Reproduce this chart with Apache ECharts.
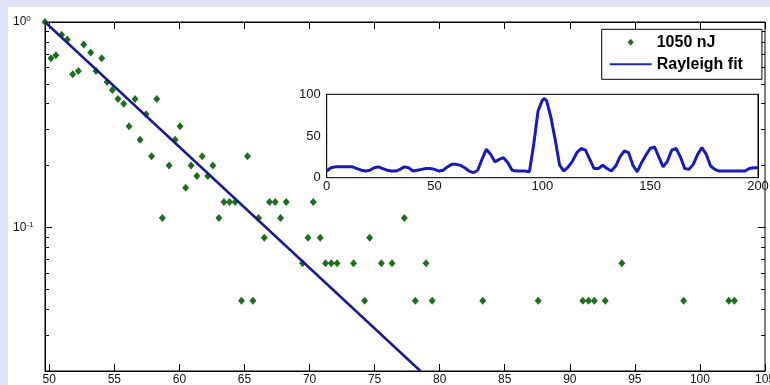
<!DOCTYPE html>
<html>
<head>
<meta charset="utf-8">
<script src="https://cdn.jsdelivr.net/npm/echarts@6/dist/echarts.min.js"></script>
<style>
  html, body { margin: 0; padding: 0; background: #e0e4f6; width: 770px; height: 385px; overflow: hidden; }
  #chart { position: absolute; left: 8px; top: 7px; width: 762px; height: 378px; background: #ffffff; }
</style>
</head>
<body>
<div id="chart"></div>
<script>
// Pulse energy (x) and exceedance probability (y) of the measured pulses
const pulseEnergy = [49.67, 50.13, 50.51, 50.95, 51.38, 51.80, 52.23, 52.65, 53.18, 53.59,
  54.03, 54.44, 54.85, 55.28, 55.72, 56.13, 56.59, 56.98, 57.44, 57.86,
  58.26, 58.69, 59.21, 59.67, 60.05, 60.48, 60.90, 61.34, 61.75, 62.18,
  62.57, 63.03, 63.42, 63.85, 64.28, 64.77, 65.23, 65.65, 66.08, 66.52,
  66.92, 67.36, 67.77, 68.21, 69.46, 69.88, 70.28, 70.82, 71.23, 71.67,
  72.11, 73.38, 74.23, 74.62, 75.52, 76.34, 77.28, 78.13, 78.95, 79.42,
  83.31, 87.57, 91.00, 91.44, 91.88, 92.72, 94.00, 98.75, 102.21, 102.65];
const pulseProb = [1.000, 0.667, 0.689, 0.867, 0.822, 0.556, 0.578, 0.778, 0.711, 0.578,
  0.667, 0.511, 0.467, 0.422, 0.400, 0.311, 0.422, 0.267, 0.356, 0.222,
  0.422, 0.111, 0.200, 0.267, 0.311, 0.156, 0.200, 0.178, 0.222, 0.178,
  0.200, 0.111, 0.133, 0.133, 0.133, 0.044, 0.222, 0.044, 0.111, 0.089,
  0.133, 0.133, 0.111, 0.133, 0.067, 0.089, 0.133, 0.089, 0.067, 0.067,
  0.067, 0.067, 0.044, 0.089, 0.067, 0.067, 0.111, 0.044, 0.067, 0.044,
  0.044, 0.044, 0.044, 0.044, 0.044, 0.044, 0.067, 0.044, 0.044, 0.044];

// Rayleigh fit end points
const fitEnergy = [49.67, 78.52];
const fitProb = [1.0, 0.02];

// Inset trace
const insetX = [0, 2, 4, 6, 8, 10, 12, 14, 16, 18, 20, 22, 24, 26, 28, 30, 32, 34, 36, 38,
  40, 42, 44, 46, 48, 50, 52, 54, 56, 58, 60, 62, 64, 66, 68, 70, 72, 74, 76, 78,
  80, 82, 84, 86, 88, 90, 92, 94, 96, 98, 100, 101, 102, 104, 106, 108, 110, 112, 114, 116,
  118, 120, 122, 124, 126, 128, 130, 132, 134, 136, 138, 140, 142, 144, 146, 148, 150, 152, 154, 156,
  158, 160, 162, 164, 166, 168, 170, 172, 174, 176, 178, 180, 182, 184, 186, 188, 190, 192, 194, 196,
  198, 200];
const insetY = [8, 12, 13, 13, 13, 13, 13, 11, 9, 8, 9, 12, 13, 11, 9, 8, 8, 10, 13, 12,
  8, 9, 10, 11, 11, 10, 8, 9, 13, 16, 16, 15, 12, 8, 6, 9, 22, 34, 28, 19,
  22, 24, 18, 9, 8, 8, 8, 7, 40, 80, 93, 95, 92, 72, 45, 15, 8, 13, 20, 30,
  35, 33, 22, 11, 11, 15, 11, 8, 14, 25, 32, 30, 15, 7, 18, 27, 35, 37, 25, 13,
  20, 33, 35, 25, 11, 10, 16, 28, 36, 28, 14, 10, 8, 8, 8, 8, 8, 8, 8, 11,
  12, 12];

// Axis ticks
const xTickValues = [50, 55, 60, 65, 70, 75, 80, 85, 90, 95, 100, 105];
const yDecades = [0.1, 1];
const yMinorValues = [0.02, 0.03, 0.04, 0.05, 0.06, 0.07, 0.08, 0.09,
  0.2, 0.3, 0.4, 0.5, 0.6, 0.7, 0.8, 0.9];
const insetXTicks = [0, 50, 100, 150, 200];
const insetYTicks = [0, 50, 100];

const FONT = 'Liberation Sans';
const INK = '#111111';
const yLogMin = Math.log10(0.02);
const toLog = v => Math.log10(v);

// tick-only helper axes on the log-decade grid
function decadeAxis(position, ticks, len, labels) {
  return {
    gridIndex: 0, type: 'value', position: position,
    min: yLogMin, max: 0,
    axisLine: { show: false, onZero: false },
    axisTick: { show: true, inside: true, length: len, customValues: ticks,
      lineStyle: { color: '#000', width: 1 } },
    axisLabel: labels ? {
      show: true, customValues: ticks, align: 'left', margin: 32,
      formatter: v => '{b|10}{s|' + Math.round(v) + '}',
      rich: {
        b: { fontFamily: FONT, fontSize: 12, color: INK, lineHeight: 14 },
        s: { fontFamily: FONT, fontSize: 8, color: INK, verticalAlign: 'top', lineHeight: 9 }
      }
    } : { show: false },
    splitLine: { show: false }
  };
}

const chart = echarts.init(document.getElementById('chart'), null, { renderer: 'canvas' });

chart.setOption({
  animation: false,
  backgroundColor: 'transparent',
  grid: [
    { left: 37, top: 15, right: 5, bottom: 14, show: true, backgroundColor: '#ffffff',
      borderColor: '#000000', borderWidth: 1, outerBoundsMode: 'none', containLabel: false },
    { left: 318.7, top: 87.3, width: 431.3, height: 83.4, show: true, backgroundColor: '#ffffff',
      borderColor: '#000000', borderWidth: 1, z: 3, outerBoundsMode: 'none', containLabel: false }
  ],
  legend: {
    left: 593.7, top: 22.3, orient: 'vertical',
    padding: [5, 19, 7, 8], itemWidth: 42, itemHeight: 7, itemGap: 6,
    symbolKeepAspect: true,
    backgroundColor: '#ffffff', borderColor: '#000000', borderWidth: 1, borderRadius: 0,
    selectedMode: false,
    textStyle: { fontFamily: FONT, fontWeight: 'bold', fontSize: 16, color: '#000', lineHeight: 16 },
    data: [
      { name: '1050 nJ', icon: 'path://M3,0 L6,3.5 L3,7 L0,3.5 Z', itemStyle: { color: '#1e6e1e', opacity: 1 } },
      { name: 'Rayleigh fit', icon: 'path://M0,0 L42,0 L42,2 L0,2 Z', itemStyle: { color: '#2020c0' } }
    ]
  },
  xAxis: [
    { gridIndex: 0, type: 'value', position: 'bottom', min: 49.67, max: 105,
      axisLine: { show: true, onZero: false, lineStyle: { color: '#000' } },
      axisTick: { show: true, inside: true, length: 7, customValues: xTickValues,
        lineStyle: { color: '#000' } },
      axisLabel: { show: true, customValues: xTickValues, margin: 3,
        fontFamily: FONT, fontSize: 12, color: INK },
      splitLine: { show: false } },
    { gridIndex: 0, type: 'value', position: 'top', min: 49.67, max: 105,
      axisLine: { show: true, onZero: false, lineStyle: { color: '#000' } },
      axisTick: { show: true, inside: true, length: 7, customValues: xTickValues,
        lineStyle: { color: '#000' } },
      axisLabel: { show: false }, splitLine: { show: false } },
    { gridIndex: 1, type: 'value', position: 'bottom', min: 0, max: 200,
      axisLine: { show: true, onZero: false, lineStyle: { color: '#000' } },
      axisTick: { show: true, inside: true, length: 3, customValues: insetXTicks,
        lineStyle: { color: '#000' } },
      axisLabel: { show: true, customValues: insetXTicks, margin: 2,
        fontFamily: FONT, fontSize: 13, color: INK },
      splitLine: { show: false } },
    { gridIndex: 1, type: 'value', position: 'top', min: 0, max: 200,
      axisLine: { show: true, onZero: false, lineStyle: { color: '#000' } },
      axisTick: { show: true, inside: true, length: 3, customValues: insetXTicks,
        lineStyle: { color: '#000' } },
      axisLabel: { show: false }, splitLine: { show: false } }
  ],
  yAxis: [
    { gridIndex: 0, type: 'log', logBase: 10, min: 0.02, max: 1, position: 'left',
      axisLine: { show: true, onZero: false, lineStyle: { color: '#000' } },
      axisTick: { show: false }, axisLabel: { show: false }, splitLine: { show: false } },
    decadeAxis('left', yDecades.map(toLog), 7, true),
    decadeAxis('left', yMinorValues.map(toLog), 4, false),
    decadeAxis('right', yDecades.map(toLog), 7, false),
    decadeAxis('right', yMinorValues.map(toLog), 4, false),
    { gridIndex: 1, type: 'value', position: 'left', min: 0, max: 100,
      axisLine: { show: true, onZero: false, lineStyle: { color: '#000' } },
      axisTick: { show: true, inside: true, length: 3, customValues: insetYTicks,
        lineStyle: { color: '#000' } },
      axisLabel: { show: true, customValues: insetYTicks, margin: 6,
        fontFamily: FONT, fontSize: 13, color: INK },
      splitLine: { show: false } },
    { gridIndex: 1, type: 'value', position: 'right', min: 0, max: 100,
      axisLine: { show: true, onZero: false, lineStyle: { color: '#000' } },
      axisTick: { show: true, inside: true, length: 3, customValues: insetYTicks,
        lineStyle: { color: '#000' } },
      axisLabel: { show: false }, splitLine: { show: false } }
  ],
  series: [
    { name: '1050 nJ', type: 'scatter', xAxisIndex: 0, yAxisIndex: 0,
      symbol: 'diamond', symbolSize: [7, 8],
      itemStyle: { color: '#1e6e1e', opacity: 1 },
      data: pulseEnergy.map((x, i) => [x, pulseProb[i]]), z: 2 },
    { name: 'Rayleigh fit', type: 'line', xAxisIndex: 0, yAxisIndex: 0,
      symbol: 'none', lineStyle: { color: '#1b1b8c', width: 2.5 },
      itemStyle: { color: '#1b1b8c' },
      data: fitEnergy.map((x, i) => [x, fitProb[i]]), z: 3 },
    { name: 'trace', type: 'line', xAxisIndex: 2, yAxisIndex: 5,
      symbol: 'none', lineStyle: { color: '#1a1ab4', width: 3 },
      data: insetX.map((x, i) => [x, insetY[i]]), z: 5 }
  ]
});
</script>
</body>
</html>
